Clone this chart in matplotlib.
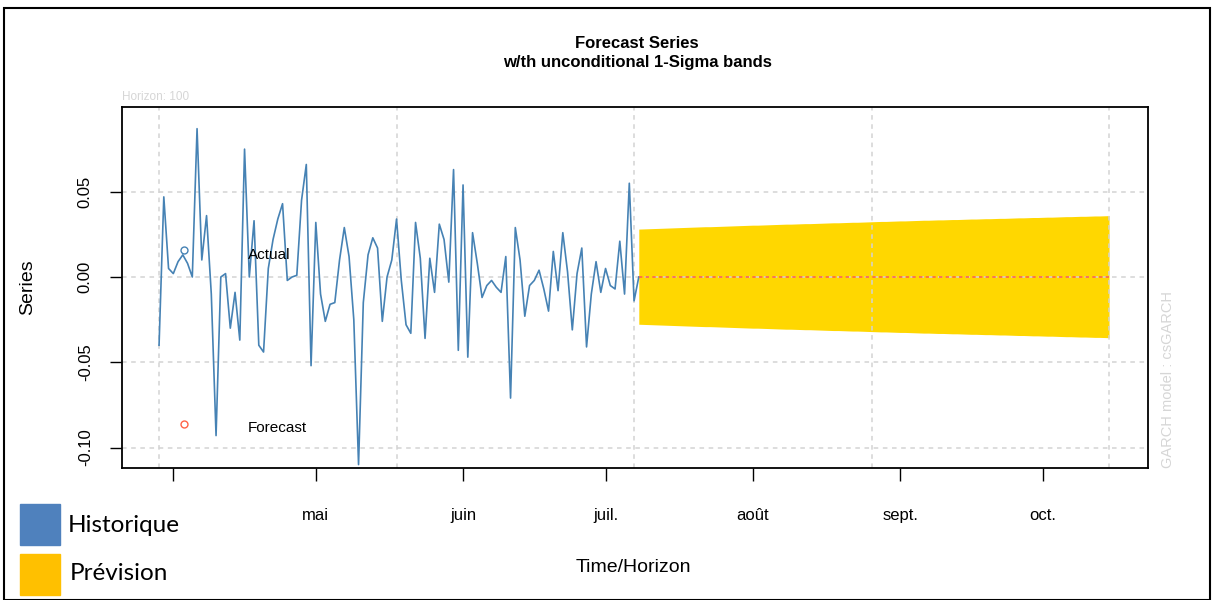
"""Forecast series with unconditional 1-sigma bands (csGARCH, horizon 100)."""
import datetime as dt
import matplotlib; matplotlib.use("Agg")
import matplotlib.pyplot as plt
import matplotlib.dates as mdates
from matplotlib.patches import Rectangle

plt.rcParams["font.family"] = ["Liberation Sans", "DejaVu Sans"]

# daily returns (last observations) and 100-step forecast
START = dt.date(2021, 3, 29)
actual = [-0.040, 0.047, 0.005, 0.002, 0.009, 0.013, 0.008, 0.000, 0.087, 0.010,
          0.036, -0.010, -0.093, 0.000, 0.002, -0.030, -0.009, -0.037, 0.075, 0.000,
          0.033, -0.040, -0.044, 0.005, 0.022, 0.034, 0.043, -0.002, 0.000, 0.001,
          0.045, 0.066, -0.052, 0.032, -0.010, -0.026, -0.016, -0.015, 0.010, 0.029,
          0.012, -0.025, -0.110, -0.015, 0.013, 0.023, 0.017, -0.026, 0.000, 0.010,
          0.034, -0.002, -0.028, -0.033, 0.032, 0.011, -0.036, 0.011, -0.009, 0.031,
          0.022, -0.003, 0.063, -0.043, 0.054, -0.047, 0.026, 0.008, -0.012, -0.005,
          -0.002, -0.006, -0.009, 0.012, -0.071, 0.029, 0.010, -0.023, -0.005, -0.002,
          0.004, -0.007, -0.020, 0.015, -0.008, 0.026, 0.003, -0.031, 0.002, 0.017,
          -0.041, -0.010, 0.009, -0.009, 0.005, -0.005, -0.007, 0.021, -0.010, 0.055,
          -0.014, 0.000]
sigma = [0.0279, 0.0280, 0.0281, 0.0282, 0.0283, 0.0284, 0.0285, 0.0286, 0.0287, 0.0288,
         0.0289, 0.0290, 0.0291, 0.0292, 0.0293, 0.0293, 0.0294, 0.0295, 0.0296, 0.0297,
         0.0298, 0.0299, 0.0300, 0.0301, 0.0302, 0.0302, 0.0303, 0.0304, 0.0305, 0.0306,
         0.0307, 0.0308, 0.0308, 0.0309, 0.0310, 0.0311, 0.0311, 0.0312, 0.0313, 0.0314,
         0.0315, 0.0316, 0.0316, 0.0317, 0.0318, 0.0319, 0.0319, 0.0320, 0.0321, 0.0322,
         0.0323, 0.0324, 0.0324, 0.0325, 0.0326, 0.0327, 0.0327, 0.0328, 0.0329, 0.0330,
         0.0331, 0.0331, 0.0332, 0.0333, 0.0333, 0.0334, 0.0335, 0.0335, 0.0336, 0.0337,
         0.0338, 0.0338, 0.0339, 0.0340, 0.0340, 0.0341, 0.0342, 0.0342, 0.0343, 0.0344,
         0.0345, 0.0345, 0.0346, 0.0347, 0.0347, 0.0348, 0.0349, 0.0349, 0.0350, 0.0351,
         0.0352, 0.0352, 0.0353, 0.0354, 0.0354, 0.0355, 0.0356, 0.0356, 0.0357, 0.0358]
fc_mean = [0.0002] * len(sigma)

month_starts = [dt.date(2021, m, 1) for m in range(4, 11)]
month_labels = ["", "mai", "juin", "juil.", "août", "sept.", "oct."]
y_ticks = [-0.10, -0.05, 0.00, 0.05]
y_labels = ["-0.10", "-0.05", "0.00", "0.05"]

BLUE, GOLD, RED = "#4682B4", "#FFD700", "#FF6347"
GRID = "#D3D3D3"

n_hist = len(actual)
hist_dates = [START + dt.timedelta(days=i) for i in range(n_hist)]
fc_dates = [START + dt.timedelta(days=n_hist - 1 + i) for i in range(len(sigma))]
upper = [m + s for m, s in zip(fc_mean, sigma)]
lower = [m - s for m, s in zip(fc_mean, sigma)]
all_dates = hist_dates + fc_dates[1:]

fig = plt.figure(figsize=(12.15, 6.0), dpi=100)
ax = fig.add_axes([122 / 1215, 1 - 468 / 600, 1026 / 1215, 361 / 600])

ax.fill_between(fc_dates, lower, upper, color=GOLD, lw=0, zorder=1)
for d in all_dates[::50]:
    ax.axvline(d, color=GRID, ls=(0, (3, 3)), lw=1.1, zorder=2)
for yv in y_ticks:
    ax.axhline(yv, color=GRID, ls=(0, (3, 3)), lw=1.1, zorder=2)
ax.plot(hist_dates, actual, color=BLUE, lw=1.2, zorder=3)
ax.plot(fc_dates, fc_mean, color=RED, ls=(0, (2, 2)), lw=1.2, zorder=3)

x0 = mdates.date2num(START)
ax.set_xlim(x0 - 7.8, x0 + 208.2)
ax.set_ylim(-0.112, 0.0997)

ax.set_xticks(month_starts)
ax.set_xticklabels(month_labels, fontsize=12)
ax.set_yticks(y_ticks)
ax.set_yticklabels(y_labels, fontsize=12, rotation=90, va="center")
ax.tick_params(axis="x", length=9, width=1, pad=20)
ax.tick_params(axis="y", length=9, width=1, pad=12)
for sp in ax.spines.values():
    sp.set_linewidth(1.3)

ax.set_ylabel("Series", fontsize=14, labelpad=30)
fig.text(633 / 1215, 1 - 568 / 600, "Time/Horizon", fontsize=14, ha="center", va="center")

# in-plot key
ax.plot([0.0604], [0.604], "o", transform=ax.transAxes, mfc="none", mec=BLUE, ms=5, mew=1)
ax.text(0.1228, 0.590, "Actual", transform=ax.transAxes, fontsize=11, va="center")
ax.plot([0.0604], [0.122], "o", transform=ax.transAxes, mfc="none", mec=RED, ms=5, mew=1)
ax.text(0.1228, 0.110, "Forecast", transform=ax.transAxes, fontsize=11, va="center")

fig.text(637 / 1215, 1 - 43 / 600, "Forecast Series", fontsize=12, fontweight="bold",
         ha="center", va="center")
fig.text(637 / 1215, 1 - 62 / 600, "w/th unconditional 1-Sigma bands", fontsize=12,
         fontweight="bold", ha="center", va="center")
fig.text(122 / 1215, 1 - 97 / 600, "Horizon: 100", fontsize=8.5, color="#D6D6D6", va="center")
fig.text(1168 / 1215, 1 - 468 / 600, "GARCH model : csGARCH", fontsize=10.5, color="#D6D6D6",
         rotation=90, ha="center", va="bottom")

# colour key below the plot
fig.patches.append(Rectangle((20 / 1215, 1 - 545 / 600), 40 / 1215, 41 / 600,
                             transform=fig.transFigure, color="#4F81BD"))
fig.patches.append(Rectangle((20 / 1215, 1 - 595 / 600), 40 / 1215, 41 / 600,
                             transform=fig.transFigure, color="#FFC000"))
fig.text(68 / 1215, 1 - 525 / 600, "Historique", fontsize=17.5, family="Lato", va="center")
fig.text(70 / 1215, 1 - 574 / 600, "Prévision", fontsize=17.5, family="Lato", va="center")

fig.patches.append(Rectangle((4 / 1215, 0.0), 1206 / 1215, 1 - 8 / 600,
                             transform=fig.transFigure, fill=False, ec="black", lw=1.5))

fig.savefig("out.png", dpi=100)
